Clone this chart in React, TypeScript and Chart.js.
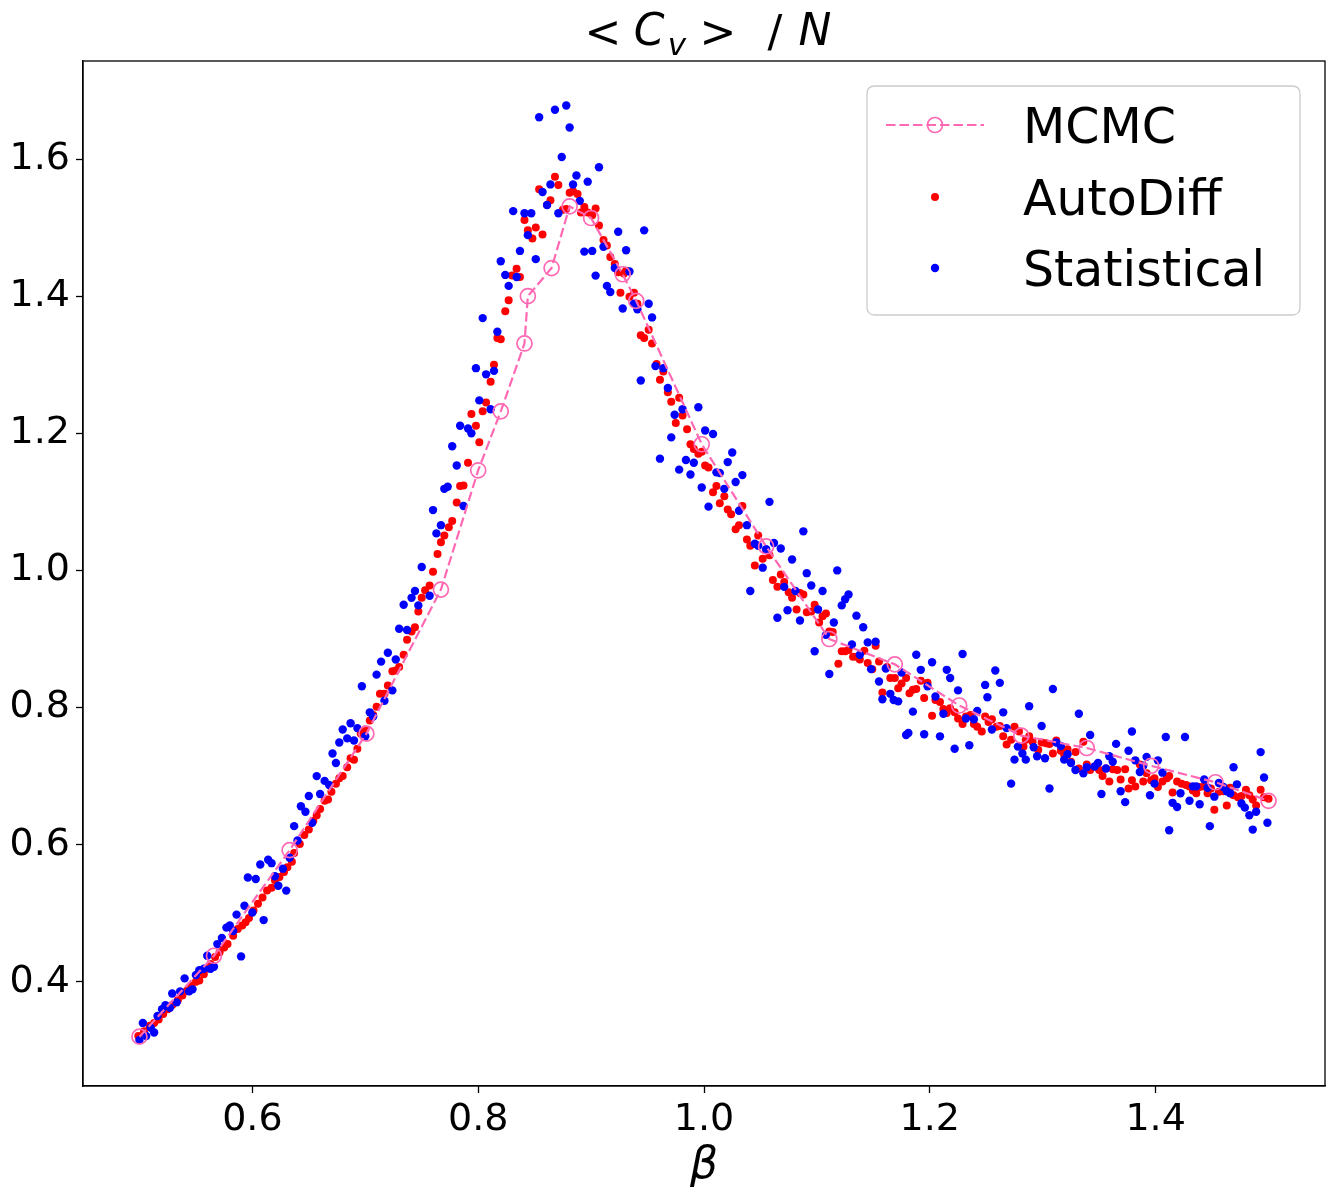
import React, { useEffect, useRef } from "react";
import { Chart, registerables } from "chart.js";

Chart.register(...registerables);

// ---------------- data ----------------
const mcmcBeta = [
  0.5, 0.566, 0.633, 0.701, 0.767, 0.8, 0.82, 0.841, 0.844, 0.865, 0.881, 0.9,
  0.928, 0.94, 0.998, 1.055, 1.111, 1.169, 1.226, 1.281, 1.339, 1.396, 1.453, 1.5,
];
const mcmcCv = [
  0.32, 0.438, 0.592, 0.762, 0.972, 1.146, 1.232, 1.331, 1.4, 1.441, 1.531, 1.514,
  1.432, 1.393, 1.184, 1.035, 0.9, 0.863, 0.803, 0.759, 0.741, 0.715, 0.691, 0.664,
];

const autoDiffBeta = [
  0.499, 0.504, 0.509, 0.513, 0.517, 0.521, 0.525, 0.529, 0.534, 0.538,
  0.542, 0.546, 0.55, 0.553, 0.557, 0.56, 0.563, 0.567, 0.571, 0.575,
  0.578, 0.583, 0.587, 0.591, 0.594, 0.597, 0.601, 0.605, 0.609, 0.613,
  0.617, 0.62, 0.624, 0.628, 0.631, 0.635, 0.637, 0.642, 0.646, 0.65,
  0.654, 0.657, 0.66, 0.664, 0.667, 0.67, 0.674, 0.677, 0.68, 0.684,
  0.687, 0.69, 0.693, 0.696, 0.7, 0.704, 0.707, 0.71, 0.713, 0.717,
  0.72, 0.724, 0.727, 0.73, 0.734, 0.737, 0.741, 0.744, 0.747, 0.75,
  0.753, 0.757, 0.76, 0.764, 0.767, 0.77, 0.774, 0.777, 0.781, 0.784,
  0.787, 0.791, 0.794, 0.798, 0.801, 0.804, 0.807, 0.811, 0.814, 0.817,
  0.82, 0.824, 0.827, 0.83, 0.834, 0.837, 0.841, 0.844, 0.848, 0.851,
  0.854, 0.857, 0.861, 0.864, 0.868, 0.871, 0.875, 0.878, 0.881, 0.884,
  0.888, 0.891, 0.894, 0.897, 0.901, 0.904, 0.907, 0.911, 0.914, 0.917,
  0.921, 0.924, 0.926, 0.929, 0.931, 0.934, 0.938, 0.941, 0.944, 0.947,
  0.951, 0.954, 0.958, 0.961, 0.964, 0.968, 0.971, 0.975, 0.978, 0.981,
  0.985, 0.988, 0.991, 0.995, 0.998, 1.001, 1.004, 1.008, 1.011, 1.014,
  1.018, 1.021, 1.024, 1.028, 1.031, 1.034, 1.038, 1.041, 1.045, 1.048,
  1.052, 1.055, 1.058, 1.061, 1.065, 1.068, 1.071, 1.075, 1.078, 1.082,
  1.085, 1.088, 1.091, 1.095, 1.098, 1.102, 1.105, 1.108, 1.111, 1.114,
  1.119, 1.122, 1.125, 1.128, 1.132, 1.135, 1.138, 1.142, 1.145, 1.149,
  1.152, 1.155, 1.158, 1.162, 1.165, 1.169, 1.172, 1.175, 1.179, 1.182,
  1.185, 1.188, 1.192, 1.195, 1.198, 1.202, 1.205, 1.209, 1.212, 1.215,
  1.218, 1.222, 1.225, 1.229, 1.232, 1.236, 1.239, 1.242, 1.246, 1.249,
  1.252, 1.255, 1.259, 1.262, 1.265, 1.268, 1.272, 1.275, 1.279, 1.283,
  1.285, 1.288, 1.291, 1.296, 1.299, 1.303, 1.306, 1.309, 1.312, 1.316,
  1.319, 1.322, 1.325, 1.329, 1.332, 1.336, 1.339, 1.342, 1.346, 1.35,
  1.353, 1.356, 1.359, 1.362, 1.366, 1.369, 1.373, 1.376, 1.379, 1.382,
  1.386, 1.389, 1.392, 1.396, 1.399, 1.402, 1.406, 1.41, 1.412, 1.415,
  1.419, 1.423, 1.427, 1.43, 1.433, 1.436, 1.439, 1.443, 1.446, 1.449,
  1.452, 1.456, 1.46, 1.463, 1.466, 1.469, 1.473, 1.476, 1.48, 1.483,
  1.486, 1.489, 1.493, 1.496, 1.5,
];
const autoDiffCv = [
  0.321, 0.328, 0.336, 0.34, 0.345, 0.353, 0.36, 0.366, 0.373, 0.38,
  0.387, 0.394, 0.4, 0.402, 0.411, 0.419, 0.426, 0.436, 0.443, 0.45,
  0.455, 0.467, 0.477, 0.482, 0.487, 0.493, 0.504, 0.514, 0.523, 0.533,
  0.537, 0.548, 0.553, 0.56, 0.567, 0.575, 0.588, 0.601, 0.614, 0.622,
  0.635, 0.643, 0.652, 0.664, 0.666, 0.677, 0.689, 0.697, 0.7, 0.713,
  0.726, 0.724, 0.74, 0.762, 0.768, 0.781, 0.789, 0.801, 0.82, 0.82,
  0.832, 0.853, 0.854, 0.859, 0.877, 0.899, 0.911, 0.917, 0.94, 0.96,
  0.971, 0.978, 0.998, 1.024, 1.041, 1.051, 1.063, 1.072, 1.099, 1.123,
  1.124, 1.157, 1.228, 1.211, 1.187, 1.232, 1.245, 1.275, 1.3, 1.339,
  1.337, 1.378, 1.394, 1.43, 1.44, 1.428, 1.511, 1.496, 1.484, 1.5,
  1.556, 1.49, 1.533, 1.54, 1.574, 1.562, 1.526, 1.527, 1.551, 1.553,
  1.549, 1.522, 1.53, 1.522, 1.518, 1.528, 1.503, 1.482, 1.474, 1.457,
  1.447, 1.435, 1.405, 1.433, 1.437, 1.399, 1.405, 1.389, 1.343, 1.339,
  1.351, 1.331, 1.301, 1.278, 1.29, 1.26, 1.246, 1.215, 1.252, 1.226,
  1.206, 1.184, 1.177, 1.17, 1.173, 1.153, 1.15, 1.114, 1.123, 1.098,
  1.108, 1.089, 1.082, 1.06, 1.066, 1.094, 1.045, 1.036, 1.007, 1.051,
  1.017, 1.03, 1.022, 0.986, 0.976, 0.994, 0.983, 0.968, 0.96, 0.943,
  0.967, 0.965, 0.939, 0.94, 0.95, 0.924, 0.933, 0.937, 0.911, 0.91,
  0.864, 0.882, 0.882, 0.884, 0.874, 0.874, 0.87, 0.883, 0.865, 0.856,
  0.89, 0.867, 0.822, 0.859, 0.843, 0.843, 0.828, 0.835, 0.843, 0.821,
  0.826, 0.827, 0.839, 0.814, 0.836, 0.788, 0.811, 0.808, 0.798, 0.792,
  0.799, 0.793, 0.784, 0.776, 0.787, 0.789, 0.776, 0.772, 0.765, 0.787,
  0.779, 0.783, 0.772, 0.773, 0.758, 0.746, 0.753, 0.772, 0.765, 0.743,
  0.753, 0.758, 0.75, 0.738, 0.749, 0.748, 0.747, 0.733, 0.752, 0.737,
  0.731, 0.739, 0.721, 0.735, 0.711, 0.75, 0.717, 0.709, 0.714, 0.709,
  0.7, 0.711, 0.692, 0.71, 0.709, 0.695, 0.71, 0.682, 0.694, 0.685,
  0.717, 0.692, 0.704, 0.694, 0.697, 0.684, 0.692, 0.697, 0.7, 0.676,
  0.692, 0.689, 0.687, 0.685, 0.679, 0.675, 0.684, 0.685, 0.675, 0.682,
  0.651, 0.677, 0.678, 0.657, 0.683, 0.672, 0.669, 0.671, 0.68, 0.672,
  0.666, 0.657, 0.68, 0.669, 0.667,
];

const statBeta = [
  0.5, 0.503, 0.506, 0.51, 0.513, 0.516, 0.52, 0.523, 0.527, 0.529,
  0.533, 0.536, 0.54, 0.544, 0.547, 0.55, 0.553, 0.557, 0.56, 0.563,
  0.566, 0.569, 0.573, 0.577, 0.58, 0.583, 0.586, 0.59, 0.593, 0.596,
  0.6, 0.603, 0.607, 0.61, 0.614, 0.617, 0.62, 0.623, 0.627, 0.63,
  0.633, 0.637, 0.64, 0.643, 0.647, 0.65, 0.653, 0.657, 0.66, 0.664,
  0.668, 0.671, 0.674, 0.677, 0.68, 0.684, 0.687, 0.69, 0.693, 0.697,
  0.7, 0.704, 0.707, 0.71, 0.714, 0.717, 0.72, 0.724, 0.727, 0.73,
  0.734, 0.737, 0.741, 0.744, 0.747, 0.75, 0.757, 0.76, 0.763, 0.767,
  0.77, 0.773, 0.777, 0.781, 0.784, 0.787, 0.791, 0.794, 0.798, 0.801,
  0.804, 0.807, 0.811, 0.814, 0.817, 0.82, 0.824, 0.827, 0.831, 0.834,
  0.837, 0.841, 0.844, 0.847, 0.851, 0.854, 0.857, 0.861, 0.864, 0.868,
  0.871, 0.874, 0.878, 0.881, 0.884, 0.887, 0.89, 0.894, 0.897, 0.901,
  0.904, 0.907, 0.911, 0.914, 0.917, 0.921, 0.924, 0.928, 0.931, 0.934,
  0.938, 0.941, 0.944, 0.947, 0.951, 0.954, 0.957, 0.961, 0.964, 0.968,
  0.971, 0.974, 0.978, 0.981, 0.984, 0.988, 0.991, 0.995, 0.998, 1.001,
  1.004, 1.008, 1.011, 1.014, 1.018, 1.021, 1.025, 1.028, 1.031, 1.034,
  1.038, 1.041, 1.045, 1.048, 1.052, 1.055, 1.058, 1.062, 1.065, 1.068,
  1.071, 1.074, 1.078, 1.081, 1.085, 1.088, 1.091, 1.095, 1.098, 1.101,
  1.105, 1.108, 1.111, 1.115, 1.118, 1.122, 1.125, 1.128, 1.131, 1.135,
  1.138, 1.141, 1.145, 1.148, 1.152, 1.155, 1.158, 1.161, 1.165, 1.168,
  1.172, 1.175, 1.179, 1.181, 1.185, 1.188, 1.192, 1.195, 1.198, 1.202,
  1.205, 1.209, 1.212, 1.215, 1.218, 1.222, 1.225, 1.229, 1.232, 1.235,
  1.239, 1.242, 1.249, 1.251, 1.255, 1.258, 1.262, 1.265, 1.268, 1.272,
  1.275, 1.278, 1.282, 1.285, 1.288, 1.292, 1.295, 1.299, 1.302, 1.306,
  1.309, 1.312, 1.316, 1.319, 1.322, 1.325, 1.329, 1.332, 1.336, 1.339,
  1.342, 1.346, 1.349, 1.352, 1.356, 1.359, 1.362, 1.365, 1.369, 1.373,
  1.376, 1.379, 1.382, 1.386, 1.389, 1.392, 1.395, 1.399, 1.402, 1.406,
  1.409, 1.412, 1.415, 1.419, 1.422, 1.426, 1.43, 1.433, 1.436, 1.439,
  1.443, 1.446, 1.448, 1.452, 1.456, 1.46, 1.463, 1.466, 1.469, 1.472,
  1.476, 1.479, 1.483, 1.486, 1.489, 1.493, 1.496, 1.499,
];
const statCv = [
  0.315, 0.34, 0.321, 0.333, 0.326, 0.35, 0.36, 0.366, 0.362, 0.383,
  0.37, 0.386, 0.405, 0.386, 0.389, 0.41, 0.417, 0.419, 0.438, 0.419,
  0.422, 0.455, 0.464, 0.479, 0.482, 0.474, 0.498, 0.437, 0.511, 0.552,
  0.501, 0.55, 0.571, 0.49, 0.578, 0.573, 0.554, 0.54, 0.565, 0.533,
  0.581, 0.627, 0.606, 0.656, 0.648, 0.671, 0.632, 0.7, 0.674, 0.693,
  0.687, 0.733, 0.719, 0.749, 0.768, 0.755, 0.777, 0.752, 0.77, 0.831,
  0.758, 0.793, 0.787, 0.848, 0.867, 0.81, 0.88, 0.825, 0.87, 0.915,
  0.95, 0.913, 0.96, 0.97, 0.949, 1.005, 0.963, 1.088, 1.054, 1.066,
  1.119, 1.122, 1.181, 1.153, 1.211, 1.094, 1.207, 1.2, 1.295, 1.248,
  1.368, 1.286, 1.235, 1.291, 1.348, 1.451, 1.431, 1.415, 1.524, 1.428,
  1.466, 1.521, 1.489, 1.521, 1.454, 1.661, 1.552, 1.533, 1.563, 1.672,
  1.521, 1.603, 1.678, 1.646, 1.563, 1.576, 1.539, 1.465, 1.567, 1.466,
  1.43, 1.588, 1.472, 1.415, 1.406, 1.441, 1.494, 1.382, 1.467, 1.436,
  1.389, 1.381, 1.277, 1.496, 1.389, 1.369, 1.298, 1.163, 1.295, 1.266,
  1.194, 1.227, 1.147, 1.235, 1.161, 1.14, 1.157, 1.238, 1.121, 1.204,
  1.093, 1.199, 1.143, 1.142, 1.119, 1.158, 1.172, 1.129, 1.087, 1.139,
  1.066, 0.97, 1.039, 1.036, 1.004, 1.031, 1.1, 1.04, 0.931, 1.032,
  0.976, 0.942, 1.016, 0.97, 0.927, 1.057, 0.996, 0.978, 0.882, 0.943,
  0.97, 0.906, 0.849, 0.924, 1.0, 0.949, 0.958, 0.965, 0.892, 0.934,
  0.877, 0.917, 0.895, 0.856, 0.896, 0.838, 0.812, 0.857, 0.82, 0.811,
  0.809, 0.851, 0.76, 0.763, 0.794, 0.877, 0.855, 0.761, 0.831, 0.866,
  0.816, 0.758, 0.791, 0.855, 0.843, 0.74, 0.825, 0.878, 0.784, 0.745,
  0.783, 0.795, 0.833, 0.815, 0.768, 0.854, 0.836, 0.793, 0.77, 0.689,
  0.724, 0.743, 0.733, 0.724, 0.802, 0.742, 0.729, 0.773, 0.726, 0.682,
  0.827, 0.749, 0.744, 0.724, 0.732, 0.719, 0.709, 0.791, 0.704, 0.713,
  0.76, 0.714, 0.719, 0.674, 0.711, 0.729, 0.721, 0.747, 0.678, 0.662,
  0.737, 0.765, 0.723, 0.706, 0.715, 0.728, 0.672, 0.689, 0.723, 0.705,
  0.757, 0.621, 0.661, 0.655, 0.675, 0.757, 0.664, 0.685, 0.685, 0.659,
  0.695, 0.683, 0.627, 0.67, 0.69, 0.684, 0.678, 0.675, 0.713, 0.688,
  0.66, 0.654, 0.643, 0.622, 0.648, 0.735, 0.698, 0.632,
];

const xTicks = [0.6, 0.8, 1.0, 1.2, 1.4];
const yTicks = [0.4, 0.6, 0.8, 1.0, 1.2, 1.4, 1.6];
const legendLabels = ["MCMC", "AutoDiff", "Statistical"];

const PINK = "#ff69b4";
const RED = "#ff0000";
const BLUE = "#0000ff";
const FONT = "'DejaVu Sans', 'Liberation Sans', sans-serif";
const DASH = [9.5, 4];

const toPoints = (xs: number[], ys: number[]) => xs.map((x, i) => ({ x, y: ys[i] }));

export default function App() {
  const ref = useRef<HTMLCanvasElement>(null);

  useEffect(() => {
    const canvas = ref.current;
    if (!canvas) return;

    const decorPlugin = {
      id: "decor",
      afterDraw(chart: any) {
        const ctx = chart.ctx as CanvasRenderingContext2D;
        const a = chart.chartArea;
        ctx.save();
        // frame
        ctx.strokeStyle = "#000";
        ctx.lineWidth = 1.3;
        ctx.setLineDash([]);
        ctx.strokeRect(a.left, a.top, a.right - a.left, a.bottom - a.top);

        // legend box
        const lx = 867, ly = 86, lw = 433, lh = 229, r = 8;
        ctx.beginPath();
        ctx.moveTo(lx + r, ly);
        ctx.lineTo(lx + lw - r, ly);
        ctx.quadraticCurveTo(lx + lw, ly, lx + lw, ly + r);
        ctx.lineTo(lx + lw, ly + lh - r);
        ctx.quadraticCurveTo(lx + lw, ly + lh, lx + lw - r, ly + lh);
        ctx.lineTo(lx + r, ly + lh);
        ctx.quadraticCurveTo(lx, ly + lh, lx, ly + lh - r);
        ctx.lineTo(lx, ly + r);
        ctx.quadraticCurveTo(lx, ly, lx + r, ly);
        ctx.closePath();
        ctx.fillStyle = "rgba(255,255,255,0.8)";
        ctx.fill();
        ctx.strokeStyle = "#cccccc";
        ctx.lineWidth = 1.3;
        ctx.stroke();

        const rows = [125, 197, 268];
        const hx = 935;
        // MCMC handle
        ctx.strokeStyle = PINK;
        ctx.lineWidth = 2.2;
        ctx.setLineDash(DASH);
        ctx.beginPath();
        ctx.moveTo(886, rows[0]);
        ctx.lineTo(984, rows[0]);
        ctx.stroke();
        ctx.setLineDash([]);
        ctx.lineWidth = 1.7;
        ctx.beginPath();
        ctx.arc(hx, rows[0], 7.5, 0, Math.PI * 2);
        ctx.stroke();
        // dots
        ctx.fillStyle = RED;
        ctx.beginPath();
        ctx.arc(hx, rows[1], 4, 0, Math.PI * 2);
        ctx.fill();
        ctx.fillStyle = BLUE;
        ctx.beginPath();
        ctx.arc(hx, rows[2], 4.2, 0, Math.PI * 2);
        ctx.fill();

        ctx.fillStyle = "#000";
        ctx.font = `49px ${FONT}`;
        ctx.textAlign = "left";
        ctx.textBaseline = "alphabetic";
        legendLabels.forEach((t, i) => ctx.fillText(t, 1023, rows[i] + 18));

        // title  < C_v >  / N
        const big = `44px ${FONT}`;
        const bigIt = `italic 44px ${FONT}`;
        const subIt = `italic 31px ${FONT}`;
        ctx.textAlign = "center";
        ctx.font = big;
        ctx.fillText("<", 603, 47);
        ctx.font = bigIt;
        ctx.fillText("C", 649, 45);
        ctx.font = subIt;
        ctx.fillText("v", 677, 55);
        ctx.font = big;
        ctx.fillText(">", 718, 47);
        ctx.fillText("/", 775, 47);
        ctx.font = bigIt;
        ctx.fillText("N", 815, 45);

        // x label
        ctx.font = bigIt;
        ctx.fillText("β", (a.left + a.right) / 2, 1178);
        ctx.restore();
      },
    };

    const tickFont = { family: FONT, size: 38 };
    const noPad = (s: any) => {
      s.paddingLeft = 0;
      s.paddingRight = 0;
      s.paddingTop = 0;
      s.paddingBottom = 0;
    };

    const chart = new Chart(canvas, {
      type: "scatter",
      data: {
        datasets: [
          {
            label: "MCMC",
            data: toPoints(mcmcBeta, mcmcCv),
            showLine: true,
            borderColor: PINK,
            borderWidth: 2.2,
            borderDash: DASH,
            pointRadius: 7.5,
            pointBorderWidth: 1.7,
            pointBorderColor: PINK,
            pointBackgroundColor: "rgba(0,0,0,0)",
            pointHoverRadius: 7.5,
            tension: 0,
            order: 0,
          } as any,
          {
            label: "AutoDiff",
            data: toPoints(autoDiffBeta, autoDiffCv),
            pointRadius: 4,
            pointBorderWidth: 0,
            pointBackgroundColor: RED,
            pointBorderColor: RED,
            order: 2,
          } as any,
          {
            label: "Statistical",
            data: toPoints(statBeta, statCv),
            pointRadius: 4.2,
            pointBorderWidth: 0,
            pointBackgroundColor: BLUE,
            pointBorderColor: BLUE,
            order: 1,
          } as any,
        ],
      },
      options: {
        animation: false,
        responsive: false,
        devicePixelRatio: 1,
        events: [],
        layout: { autoPadding: false, padding: { top: 61, right: 1, left: 0, bottom: 0 } },
        plugins: {
          legend: { display: false },
          tooltip: { enabled: false },
          title: { display: false },
        },
        scales: {
          x: {
            type: "linear",
            min: 0.45,
            max: 1.55,
            afterBuildTicks: (s: any) => {
              s.ticks = xTicks.map((v) => ({ value: v }));
            },
            afterFit: (s: any) => {
              s.height = 104;
              noPad(s);
            },
            grid: {
              display: true,
              drawOnChartArea: false,
              drawTicks: true,
              tickLength: 7,
              tickWidth: 1.3,
              tickColor: "#000",
            },
            border: { display: true, color: "#000", width: 1.3 },
            ticks: {
              color: "#000",
              font: tickFont,
              padding: 4,
              maxRotation: 0,
              autoSkip: false,
              callback: (v: any) => Number(v).toFixed(1),
            },
          },
          y: {
            type: "linear",
            min: 0.248,
            max: 1.743,
            afterBuildTicks: (s: any) => {
              s.ticks = yTicks.map((v) => ({ value: v }));
            },
            afterFit: (s: any) => {
              s.width = 83;
              noPad(s);
            },
            grid: {
              display: true,
              drawOnChartArea: false,
              drawTicks: true,
              tickLength: 7,
              tickWidth: 1.3,
              tickColor: "#000",
            },
            border: { display: true, color: "#000", width: 1.3 },
            ticks: {
              color: "#000",
              font: tickFont,
              padding: 6,
              autoSkip: false,
              callback: (v: any) => Number(v).toFixed(1),
            },
          },
        },
      } as any,
      plugins: [decorPlugin],
    });

    return () => chart.destroy();
  }, []);

  return (
    <div
      style={{
        position: "fixed",
        left: 0,
        top: 0,
        width: 1326,
        height: 1190,
        background: "#ffffff",
        overflow: "hidden",
      }}
    >
      <canvas ref={ref} width={1326} height={1190} style={{ display: "block", width: 1326, height: 1190 }} />
    </div>
  );
}
